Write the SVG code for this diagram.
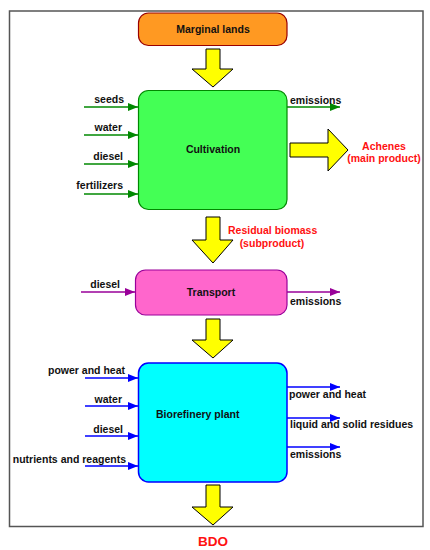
<svg xmlns="http://www.w3.org/2000/svg" width="430" height="550" viewBox="0 0 430 550">
<style>
text{font-family:"Liberation Sans",Arial,sans-serif;font-weight:bold;font-size:10.5px;fill:#111}
.red{fill:#ff1111}
.big{fill:#ffff00;stroke:#000;stroke-width:1}
.g{stroke:#008800;stroke-width:1.5;fill:none}
.p{stroke:#990099;stroke-width:1.5;fill:none}
.b{stroke:#0000ff;stroke-width:1.5;fill:none}
</style>
<defs>
<marker id="mg" viewBox="0 0 10 8" refX="10" refY="4" markerWidth="10" markerHeight="8" markerUnits="userSpaceOnUse" orient="auto"><path d="M0,0L10,4L0,8z" fill="#008800"/></marker>
<marker id="mp" viewBox="0 0 10 8" refX="10" refY="4" markerWidth="10" markerHeight="8" markerUnits="userSpaceOnUse" orient="auto"><path d="M0,0L10,4L0,8z" fill="#990099"/></marker>
<marker id="mb" viewBox="0 0 10 8" refX="10" refY="4" markerWidth="10" markerHeight="8" markerUnits="userSpaceOnUse" orient="auto"><path d="M0,0L10,4L0,8z" fill="#0000ff"/></marker>
</defs>
<rect x="0" y="0" width="430" height="550" fill="#fff"/>
<rect x="9.5" y="11" width="413.5" height="515.5" fill="none" stroke="#555" stroke-width="1.5"/>

<g id="marginal">
<rect x="138.5" y="13" width="148.5" height="32.5" rx="10" fill="#ff9922" stroke="#990000" stroke-width="1.2"/>
<text x="213" y="32.5" text-anchor="middle">Marginal lands</text>
</g>
<g id="cultivation">
<rect x="138.5" y="90.5" width="148.5" height="119" rx="10" fill="#44ff55" stroke="#008800" stroke-width="1.2"/>
<text x="213" y="153" text-anchor="middle">Cultivation</text>
</g>
<g id="transport">
<rect x="135.5" y="270" width="151.5" height="45" rx="10" fill="#ff66cc" stroke="#990099" stroke-width="1.2"/>
<text x="211" y="296" text-anchor="middle">Transport</text>
</g>
<g id="biorefinery">
<rect x="138.5" y="363" width="148.5" height="119" rx="10" fill="#00ffff" stroke="#0000ff" stroke-width="1.5"/>
<text x="156" y="418">Biorefinery plant</text>
</g>

<g id="connectors">
<path class="big" d="M206,49H220V69H233L213,87L192,69H206Z"/>
<path class="big" d="M206,217H220V240H233L213,263L192,240H206Z"/>
<path class="big" d="M206,319H220V340H233L213,358L192,340H206Z"/>
<path class="big" d="M206,485H220V507H233L213,525L192,507H206Z"/>
<path class="big" d="M290,143H328V129L348,150L328,171V157H290Z"/>

<line class="g" x1="84" y1="107" x2="138" y2="107" marker-end="url(#mg)"/>
<line class="g" x1="84" y1="135" x2="138" y2="135" marker-end="url(#mg)"/>
<line class="g" x1="84" y1="164" x2="138" y2="164" marker-end="url(#mg)"/>
<line class="g" x1="84" y1="194" x2="138" y2="194" marker-end="url(#mg)"/>
<line class="g" x1="287" y1="107" x2="340" y2="107" marker-end="url(#mg)"/>

<line class="p" x1="81" y1="292" x2="135" y2="292" marker-end="url(#mp)"/>
<line class="p" x1="287" y1="292" x2="340" y2="292" marker-end="url(#mp)"/>

<line class="b" x1="85" y1="378" x2="138" y2="378" marker-end="url(#mb)"/>
<line class="b" x1="85" y1="406" x2="138" y2="406" marker-end="url(#mb)"/>
<line class="b" x1="85" y1="436" x2="138" y2="436" marker-end="url(#mb)"/>
<line class="b" x1="85" y1="466" x2="138" y2="466" marker-end="url(#mb)"/>
<line class="b" x1="287" y1="387" x2="340" y2="387" marker-end="url(#mb)"/>
<line class="b" x1="287" y1="418" x2="340" y2="418" marker-end="url(#mb)"/>
<line class="b" x1="287" y1="447" x2="340" y2="447" marker-end="url(#mb)"/>
</g>

<g id="labels">
<text x="124" y="103" text-anchor="end">seeds</text>
<text x="122" y="131" text-anchor="end">water</text>
<text x="123" y="160" text-anchor="end">diesel</text>
<text x="123" y="189" text-anchor="end">fertilizers</text>
<text x="290" y="104">emissions</text>
<text class="red" x="384" y="150" text-anchor="middle">Achenes</text>
<text class="red" x="384" y="162" text-anchor="middle">(main product)</text>
<text class="red" x="228" y="234">Residual biomass</text>
<text class="red" x="272" y="247" text-anchor="middle">(subproduct)</text>
<text x="120" y="288" text-anchor="end">diesel</text>
<text x="290" y="305">emissions</text>
<text x="125" y="374" text-anchor="end">power and heat</text>
<text x="122" y="403" text-anchor="end">water</text>
<text x="123" y="433" text-anchor="end">diesel</text>
<text x="126" y="463" text-anchor="end">nutrients and reagents</text>
<text x="289" y="398">power and heat</text>
<text x="290" y="428">liquid and solid residues</text>
<text x="290" y="458">emissions</text>
<text class="red" x="213" y="546" text-anchor="middle" style="font-size:13.5px">BDO</text>
</g>
</svg>
